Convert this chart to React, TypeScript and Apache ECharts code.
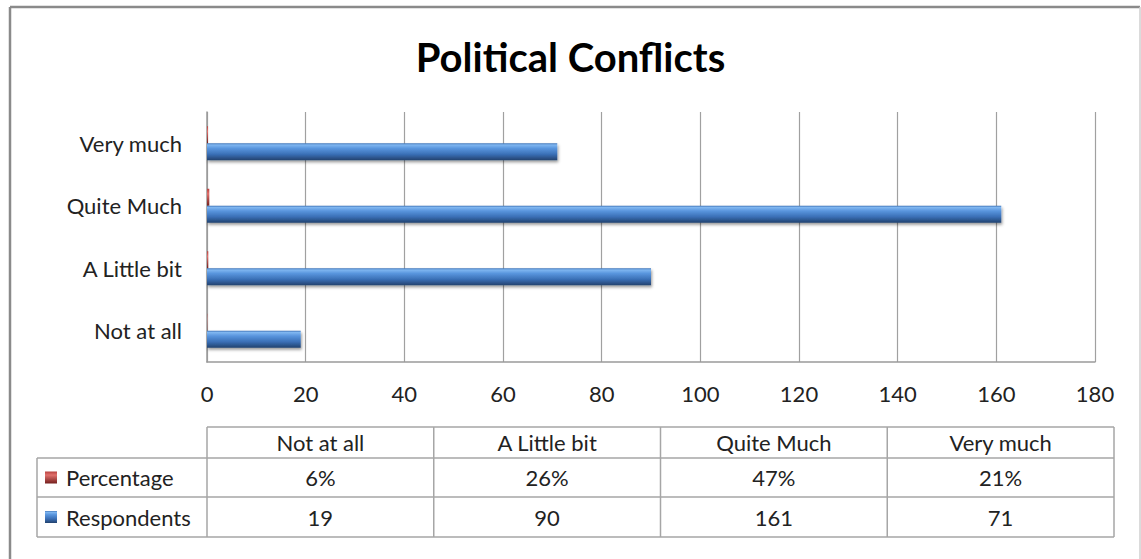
import React, { useEffect, useRef } from "react";
import * as echarts from "echarts";

const TITLE = "Political Conflicts";
const categories = ["Not at all", "A Little bit", "Quite Much", "Very much"];
const respondents = [19, 90, 161, 71];
const percentage = [6, 26, 47, 21];
const seriesNames = ["Percentage", "Respondents"];
const xMin = 0;
const xMax = 180;
const xInterval = 20;

const FONT = "Lato, 'Noto Sans', sans-serif";
const FS = 22;

const blueGrad = () =>
  new echarts.graphic.LinearGradient(0, 0, 0, 1, [
    { offset: 0, color: "#3f74b8" },
    { offset: 0.1, color: "#7fb6f0" },
    { offset: 0.3, color: "#5a96de" },
    { offset: 0.65, color: "#3a6fb6" },
    { offset: 1, color: "#22426e" },
  ]);
const redGrad = () =>
  new echarts.graphic.LinearGradient(0, 0, 0, 1, [
    { offset: 0, color: "#b8423f" },
    { offset: 0.3, color: "#e0706c" },
    { offset: 1, color: "#741f1d" },
  ]);

export default function App() {
  const ref = useRef<HTMLDivElement>(null);
  useEffect(() => {
    if (!ref.current) return;
    const chart = echarts.init(ref.current, null, { renderer: "svg" });

    const tLeft = 37;
    const tHeadRight = 207;
    const tRight = 1114;
    const yHeadTop = 427;
    const yRow1 = 458;
    const yRow2 = 497;
    const yBottom = 537;
    const colW = (tRight - tHeadRight) / categories.length;
    const lineStyle = { stroke: "#a6a6a6", lineWidth: 1.5 };
    const textStyle = { fill: "#222", fontSize: FS, fontFamily: FONT };
    const g: any[] = [];

    g.push({ type: "line", shape: { x1: 10, y1: 7, x2: 1140, y2: 7 }, style: { stroke: "#8a8a8a", lineWidth: 2.5 } });
    g.push({ type: "line", shape: { x1: 10, y1: 7, x2: 10, y2: 559 }, style: { stroke: "#8a8a8a", lineWidth: 2.5 } });
    g.push({ type: "line", shape: { x1: 1140, y1: 7, x2: 1140, y2: 559 }, style: { stroke: "#cfcfcf", lineWidth: 1.5 } });

    g.push({ type: "line", shape: { x1: tHeadRight, y1: yHeadTop, x2: tRight, y2: yHeadTop }, style: lineStyle });
    [yRow1, yRow2, yBottom].forEach((y) =>
      g.push({ type: "line", shape: { x1: tLeft, y1: y, x2: tRight, y2: y }, style: lineStyle })
    );
    g.push({ type: "line", shape: { x1: tLeft, y1: yRow1, x2: tLeft, y2: yBottom }, style: lineStyle });
    for (let i = 0; i <= categories.length; i++) {
      const x = tHeadRight + i * colW;
      g.push({ type: "line", shape: { x1: x, y1: yHeadTop, x2: x, y2: yBottom }, style: lineStyle });
    }
    categories.forEach((c, i) => {
      g.push({
        type: "text",
        x: tHeadRight + (i + 0.5) * colW,
        y: (yHeadTop + yRow1) / 2,
        style: { ...textStyle, text: c, align: "center", verticalAlign: "middle" },
      });
    });
    const rows = [
      { name: seriesNames[0], vals: percentage.map((p) => p + "%"), grad: redGrad(), y: (yRow1 + yRow2) / 2 },
      { name: seriesNames[1], vals: respondents.map((v) => String(v)), grad: blueGrad(), y: (yRow2 + yBottom) / 2 },
    ];
    rows.forEach((r) => {
      g.push({ type: "rect", shape: { x: 45, y: r.y - 6, width: 12, height: 12 }, style: { fill: r.grad } });
      g.push({
        type: "text",
        x: 66,
        y: r.y,
        style: { ...textStyle, text: r.name, align: "left", verticalAlign: "middle" },
      });
      r.vals.forEach((v, i) => {
        g.push({
          type: "text",
          x: tHeadRight + (i + 0.5) * colW,
          y: r.y,
          style: { ...textStyle, text: v, align: "center", verticalAlign: "middle" },
        });
      });
    });

    chart.setOption({
      animation: false,
      backgroundColor: "#ffffff",
      title: {
        text: TITLE,
        left: "center",
        top: 32,
        textStyle: { fontSize: 40, fontWeight: "bold", color: "#000", fontFamily: FONT },
      },
      grid: { left: 207, right: 46, top: 112, bottom: 197, containLabel: false },
      xAxis: {
        type: "value",
        min: xMin,
        max: xMax,
        interval: xInterval,
        axisLine: { show: true, lineStyle: { color: "#9a9a9a", width: 1.5 } },
        axisTick: { show: false },
        axisLabel: { fontSize: FS, color: "#222", margin: 20, fontFamily: FONT },
        splitLine: { show: true, lineStyle: { color: "#a0a0a0", width: 1.2 } },
      },
      yAxis: {
        type: "category",
        data: categories,
        axisLine: { show: true, lineStyle: { color: "#9a9a9a", width: 1.5 } },
        axisTick: { show: false },
        axisLabel: { fontSize: FS, color: "#222", margin: 25, fontFamily: FONT },
        splitLine: { show: false },
      },
      series: [
        {
          name: seriesNames[0],
          type: "bar",
          data: percentage.map((p) => p / 100),
          barWidth: 17,
          barGap: "0%",
          itemStyle: { color: redGrad() },
        },
        {
          name: seriesNames[1],
          type: "bar",
          data: respondents,
          barWidth: 17,
          barGap: "0%",
          itemStyle: {
            color: blueGrad(),
            shadowColor: "rgba(0,0,0,0.4)",
            shadowBlur: 3,
            shadowOffsetY: 2,
            shadowOffsetX: 1,
          },
        },
      ],
      graphic: g,
    });
    return () => chart.dispose();
  }, []);
  return (
    <div
      ref={ref}
      style={{ position: "fixed", left: 0, top: 0, width: 1141, height: 559, background: "#fff" }}
    />
  );
}
